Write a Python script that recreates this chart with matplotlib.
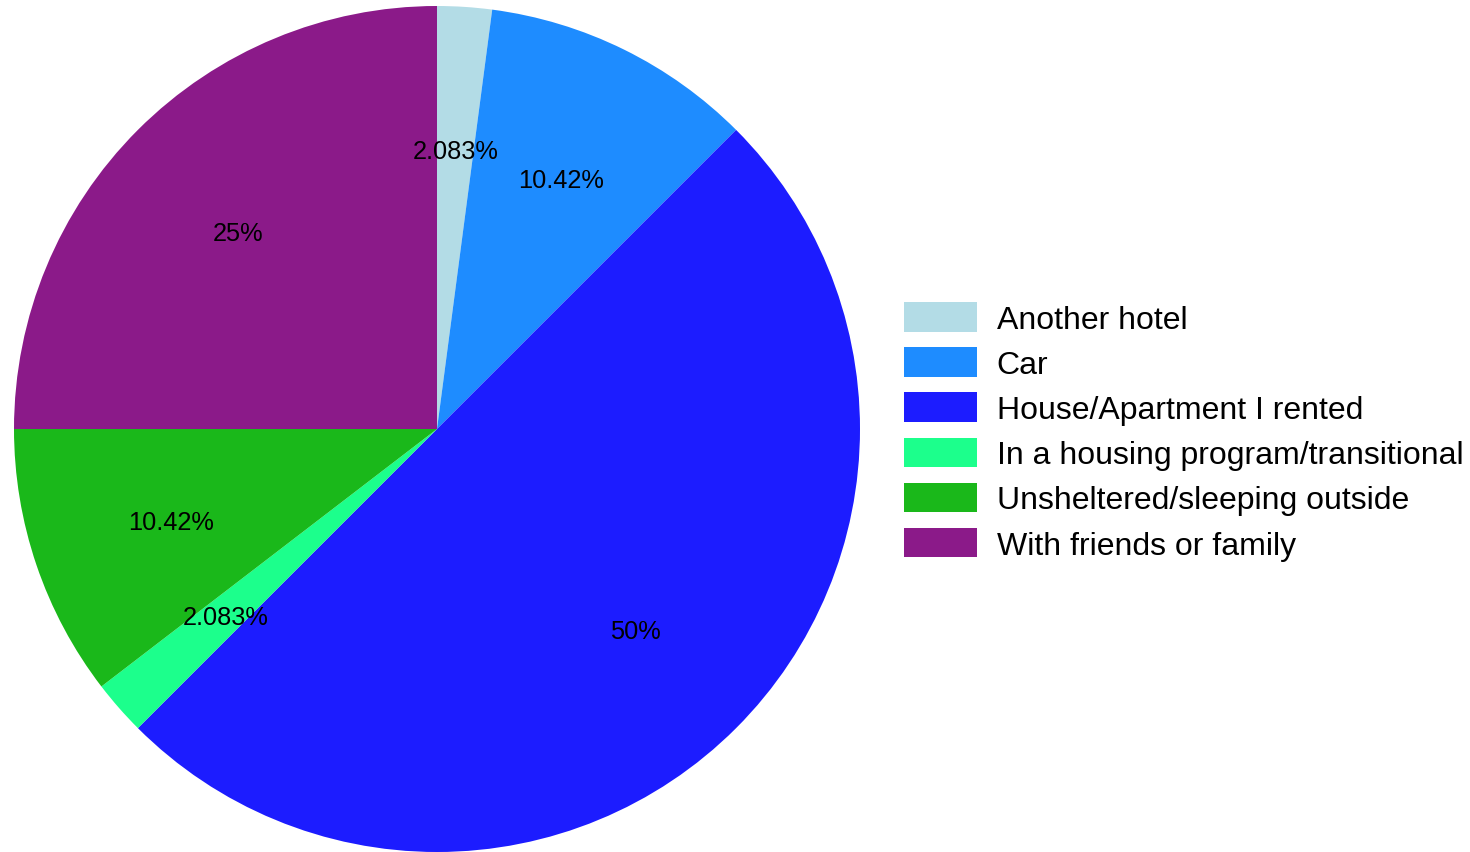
import matplotlib
matplotlib.use("Agg")
import matplotlib.pyplot as plt

categories = ["Another hotel", "Car", "House/Apartment I rented",
              "In a housing program/transitional", "Unsheltered/sleeping outside",
              "With friends or family"]
counts = [1, 5, 24, 1, 5, 12]
colors = ["#B3DCE6", "#1E8CFF", "#1C1CFF", "#1CFF8C", "#1AB81A", "#8B1A89"]

plt.rcParams['font.family'] = ['Liberation Sans', 'DejaVu Sans']

W, H = 1470, 853
fig = plt.figure(figsize=(W / 100, H / 100), dpi=100)
cx, cy, r = 437, 430, 423
ax = fig.add_axes([(cx - r) / W, (H - cy - r) / H, 2 * r / W, 2 * r / H])

wedges, texts, autotexts = ax.pie(
    counts, colors=colors, startangle=90, counterclock=False,
    autopct=lambda p: f"{p:.4g}%", pctdistance=0.665, radius=1,
    wedgeprops=dict(linewidth=0),
    textprops=dict(fontsize=18.3, color="black"))
for t in autotexts:
    x, y = t.get_position()
    t.set_position((x, y - 3.0 / r))
ax.set_xlim(-1, 1)
ax.set_ylim(-1, 1)
ax.set_aspect('equal')
ax.axis('off')

leg = fig.legend(wedges, categories, loc='upper left',
                 bbox_to_anchor=(904 / W, 1 - 303 / H), frameon=False,
                 fontsize=23, handlelength=2.3, handleheight=1.05,
                 handletextpad=0.6, labelspacing=0.39, borderpad=0,
                 borderaxespad=0)

fig.savefig("out.png", dpi=100)
